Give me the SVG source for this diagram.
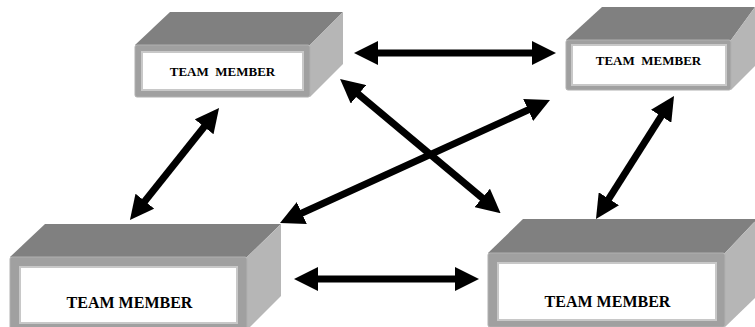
<svg xmlns="http://www.w3.org/2000/svg" width="755" height="327" viewBox="0 0 755 327">
<style>
.top{fill:#808080}
.side{fill:#b6b6b6}
.front{fill:#a0a0a0;stroke:#b0b0b0;stroke-width:1}
.inner{fill:#ffffff;stroke:#c8c8c8;stroke-width:2}
.lbl{font-family:"Liberation Serif","Times New Roman",serif;font-weight:bold;fill:#000;text-anchor:middle;white-space:pre}
.s{font-size:13px}
.b{font-size:16px}
.arr{stroke:#000;stroke-width:7;fill:none;marker-start:url(#head);marker-end:url(#head)}
</style>
<defs>
<marker id="head" viewBox="0 0 24 24" markerWidth="24" markerHeight="24" refX="4" refY="12" markerUnits="userSpaceOnUse" orient="auto-start-reverse">
<path d="M0,0 L24,12 L0,24 Z" fill="#000"/>
</marker>
</defs>
<rect width="755" height="327" fill="#ffffff"/>
<g id="member-top-left">
<polygon class="top" points="135,45 170,12 343,12 310,45"/>
<polygon class="side" points="310,45 343,12 343,64 310,97"/>
<rect class="front" x="135" y="45" width="175" height="52" rx="2"/>
<rect class="inner" x="142" y="52" width="161" height="38"/>
<text class="lbl s" x="222.5" y="76">TEAM  MEMBER</text>
</g>
<g id="member-top-right">
<polygon class="top" points="566,40 602,7 755,7 731,40"/>
<polygon class="side" points="731,40 755,7 755,66 731,90"/>
<rect class="front" x="566" y="40" width="165" height="50" rx="2"/>
<rect class="inner" x="572" y="45" width="154" height="40"/>
<text class="lbl s" x="648.5" y="65">TEAM  MEMBER</text>
</g>
<g id="member-bottom-left">
<polygon class="top" points="10,257 45,224 281,224 247,257"/>
<polygon class="side" points="247,257 281,224 281,296 247,330"/>
<rect class="front" x="10" y="257" width="237" height="72" rx="2"/>
<rect class="inner" x="20" y="267" width="217" height="56"/>
<text class="lbl b" x="129.5" y="308">TEAM MEMBER</text>
</g>
<g id="member-bottom-right">
<polygon class="top" points="488,253 523,219 757,219 725,253"/>
<polygon class="side" points="725,253 757,219 757,296 725,327"/>
<rect class="front" x="488" y="253" width="237" height="74" rx="2"/>
<rect class="inner" x="498" y="263" width="218" height="57"/>
<text class="lbl b" x="607.5" y="307">TEAM MEMBER</text>
</g>
<g id="connectors">
<line class="arr" x1="374" y1="53" x2="536" y2="53"/>
<line class="arr" x1="314" y1="279" x2="459" y2="279"/>
<line class="arr" x1="206.6" y1="123.7" x2="142.4" y2="204.3"/>
<line class="arr" x1="663.3" y1="112.9" x2="606.7" y2="202.1"/>
<line class="arr" x1="355.4" y1="91.8" x2="485.3" y2="200.5"/>
<line class="arr" x1="531.8" y1="108.3" x2="298.2" y2="214.7"/>
</g>
</svg>
